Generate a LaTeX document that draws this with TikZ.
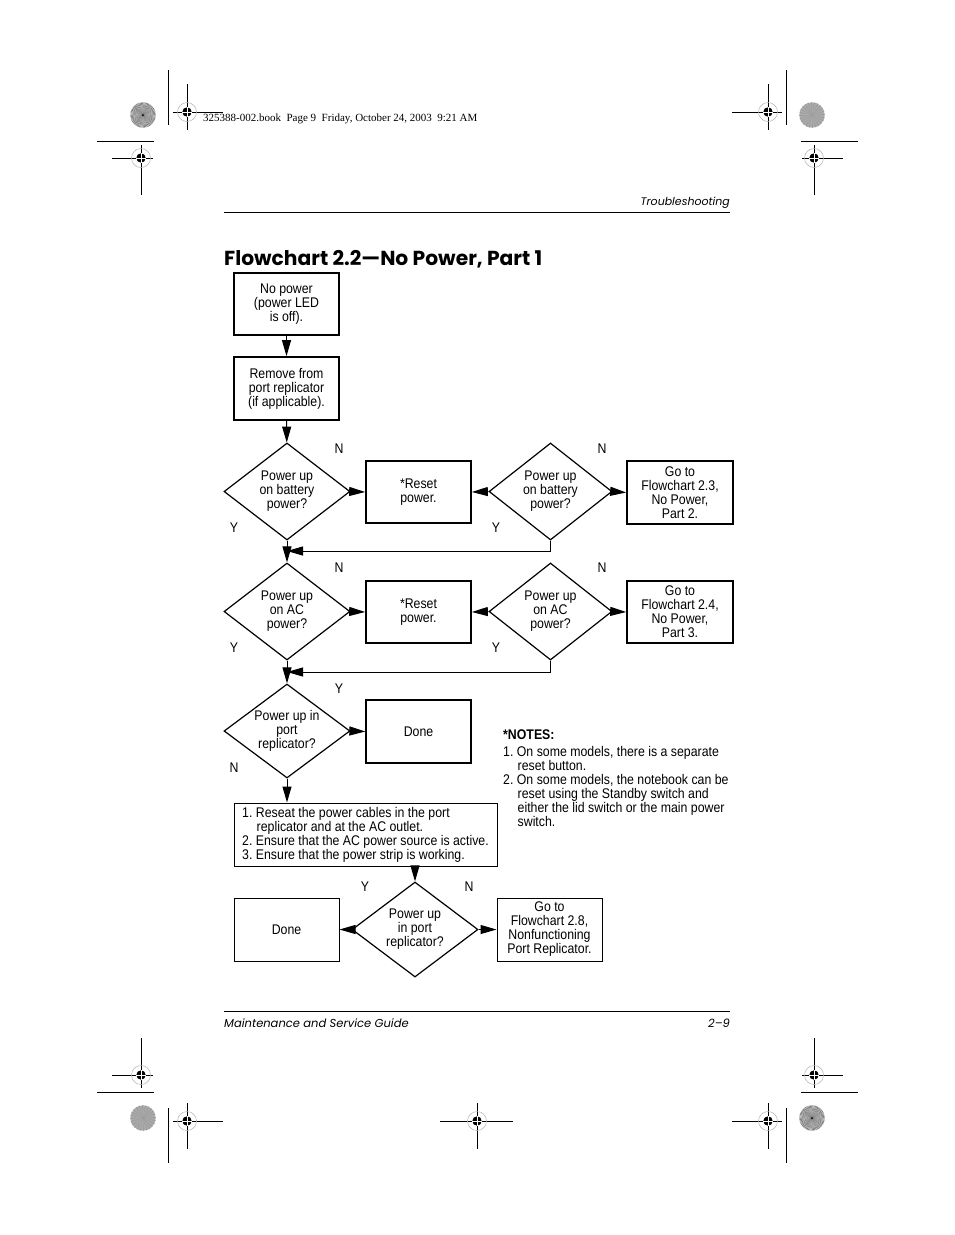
\documentclass[tikz,border=0pt]{standalone}
\usepackage{fontspec}
\usepackage{graphicx}
\setmainfont{Liberation Serif}
\newfontfamily\condf[FakeStretch=0.88]{Liberation Sans}
\newfontfamily\futf{Poppins}
\usetikzlibrary{shapes.geometric,arrows.meta,calc}

\newcommand{\rmk}[2]{%
  \draw[gray!60,line width=0.5pt] (#1,#2) circle[radius=9.5pt];
  \fill[black] (#1,#2) circle[radius=4.7pt];
  \draw[white,line width=0.6pt] (#1-4.7,#2) -- (#1+4.7,#2) (#1,#2-4.7) -- (#1,#2+4.7);}
\newcommand{\sburst}[2]{%
  \fill[gray!25] (#1,#2) circle[radius=12.7pt];
  \foreach \a in {0,6,...,354}
    \fill[black!55] (#1,#2) -- ++(\a:12.7pt) arc[start angle=\a, end angle=\a+3, radius=12.7pt] -- cycle;
  \fill[black] (#1,#2) circle[radius=1pt];}
\newcommand{\dkcirc}[2]{%
  \fill[gray!65] (#1,#2) circle[radius=12.7pt];
  \foreach \a in {0,15,...,345}
    \fill[gray!78] (#1,#2) -- ++(\a:12.7pt) arc[start angle=\a, end angle=\a+5, radius=12.7pt] -- cycle;}

\tikzset{
  txt/.style={font=\condf\fontsize{14}{14}\selectfont},
  flowbox/.style={txt, draw, line width=1.7pt, minimum width=105pt, minimum height=62pt, inner sep=0pt, align=center},
  thinbox/.style={flowbox, line width=1pt},
  decision/.style={txt, draw, diamond, aspect=1.3, line width=1.2pt, minimum width=126pt, minimum height=97pt, inner sep=0pt, align=center},
  conn/.style={line width=1pt, -{Triangle[length=16pt,width=9pt]}},
  yn/.style={txt, inner sep=0pt},
  crop/.style={line width=0.8pt},
}

\begin{document}
\begin{tikzpicture}[x=1pt,y=-1pt]
\useasboundingbox (0,0) rectangle (954,1235);
\fill[white] (0,0) rectangle (954,1235);

% ---------- crop marks ----------
\sburst{143}{115}
\draw[crop] (168.3,70) -- (168.3,125);
\draw[crop] (173,112) -- (223,112) (187,84) -- (187,130);
\rmk{187}{112}
\draw[crop] (97,141) -- (154,141);
\draw[crop] (112,158) -- (153,158) (141,145) -- (141,195);
\rmk{141}{158}

\dkcirc{812}{115}
\draw[crop] (786.7,70) -- (786.7,125);
\draw[crop] (732,112) -- (782,112) (768,84) -- (768,130);
\rmk{768}{112}
\draw[crop] (801,141) -- (858,141);
\draw[crop] (802,158) -- (843,158) (814,145) -- (814,195);
\rmk{814}{158}

\dkcirc{143}{1118}
\draw[crop] (168.3,1108) -- (168.3,1163);
\draw[crop] (173,1121) -- (223,1121) (187,1103) -- (187,1149);
\rmk{187}{1121}
\draw[crop] (97,1092) -- (154,1092);
\draw[crop] (112,1075) -- (153,1075) (141,1038) -- (141,1088);
\rmk{141}{1075}

\sburst{812}{1118}
\draw[crop] (786.7,1108) -- (786.7,1163);
\draw[crop] (732,1121) -- (782,1121) (768,1103) -- (768,1149);
\rmk{768}{1121}
\draw[crop] (801,1092) -- (858,1092);
\draw[crop] (802,1075) -- (843,1075) (814,1038) -- (814,1088);
\rmk{814}{1075}

\draw[crop] (440,1121) -- (513,1121) (477,1103) -- (477,1149);
\rmk{477}{1121}

\node[anchor=base west, inner sep=0pt, font=\fontsize{11}{13}\selectfont] (stamp) at (203,121)
  {325388-002.book~ Page 9~ Friday, October 24, 2003~ 9:21 AM};

% ---------- header / footer ----------
\node[anchor=base east, inner sep=0pt, font=\futf\itshape\fontsize{11}{13}\selectfont] (hdr) at (730,205) {Troubleshooting};
\draw[line width=0.8pt] (224,212) -- (730,212);
\draw[line width=0.8pt] (224,1011) -- (730,1011);
\node[anchor=base west, inner sep=0pt, font=\futf\itshape\fontsize{11.5}{13}\selectfont] (ftl) at (224,1027) {Maintenance and Service Guide};
\node[anchor=base east, inner sep=0pt, font=\futf\itshape\fontsize{11.5}{13}\selectfont] (ftr) at (730,1027) {2–9};

\node[anchor=base west, inner sep=0pt] (title) at (224,265)
  {\resizebox{318pt}{!}{\futf\bfseries Flowchart 2.2—No Power, Part 1}};

% ---------- flowchart ----------
\node[flowbox] (b1) at (286.5,304) {No power\\(power LED\\is off).};
\node[flowbox, minimum height=63pt] (b2) at (286.5,388.5) {Remove from\\port replicator\\(if applicable).};

\node[decision] (d1) at (287,491.5) {Power up\\on battery\\power?};
\node[flowbox] (r1) at (418.5,492) {*Reset\\power.};
\node[decision, minimum width=123pt] (d2) at (550.5,491.5) {Power up\\on battery\\power?};
\node[flowbox, minimum width=106pt, minimum height=63pt] (g1) at (680,492.5) {Go to\\Flowchart 2.3,\\No Power,\\Part 2.};

\node[decision] (d3) at (287,611.5) {Power up\\on AC\\power?};
\node[flowbox] (r2) at (418.5,612) {*Reset\\power.};
\node[decision, minimum width=123pt] (d4) at (550.5,611.5) {Power up\\on AC\\power?};
\node[flowbox, minimum width=106pt] (g2) at (680,612) {Go to\\Flowchart 2.4,\\No Power,\\Part 3.};

\node[decision, minimum height=94pt] (d5) at (287,731) {Power up in\\port\\replicator?};
\node[flowbox, line width=1.3pt, minimum height=63pt] (done1) at (418.5,731.5) {Done};

\node[thinbox, minimum width=263pt, minimum height=63pt, align=left] (steps) at (365.5,834.5)
  {1.\ Reseat the power cables in the port\\
   \hspace*{14.5pt}replicator and at the AC outlet.\\
   2.\ Ensure that the AC power source is active.\hspace*{6pt}\\
   3.\ Ensure that the power strip is working.};

\node[decision, minimum height=95pt] (d6) at (415,929.5) {Power up\\in port\\replicator?};
\node[thinbox, minimum height=63pt] (done2) at (286.5,929.5) {Done};
\node[thinbox, minimum height=63pt] (g3) at (549.5,929.5) {Go to\\Flowchart 2.8,\\Nonfunctioning\\Port Replicator.};

% notes
\node[txt, anchor=north west, inner sep=0pt, align=left] (notes) at (503,730)
  {\textbf{*NOTES:}\\[3pt]
   1.\ On some models, there is a separate\\
   \hspace*{14.5pt}reset button.\\
   2.\ On some models, the notebook can be\\
   \hspace*{14.5pt}reset using the Standby switch and\\
   \hspace*{14.5pt}either the lid switch or the main power\\
   \hspace*{14.5pt}switch.};

% Y / N labels
\node[yn] (n1) at (339,449) {N};
\node[yn] (y1) at (234,528) {Y};
\node[yn] (n2) at (602,449) {N};
\node[yn] (y2) at (496,528) {Y};
\node[yn] (n3) at (339,568) {N};
\node[yn] (y3) at (234,648) {Y};
\node[yn] (n4) at (602,568) {N};
\node[yn] (y4) at (496,648) {Y};
\node[yn] (y5) at (339,689) {Y};
\node[yn] (n5) at (234,768) {N};
\node[yn] (y6) at (365,887) {Y};
\node[yn] (n6) at (469,887) {N};

% connectors
\coordinate (j1) at (287,551);
\coordinate (j2) at (287,672);
\draw[conn] (b1) -- (b2);
\draw[conn] (b2) -- (d1);
\draw[conn] (d1.east) -- (r1.west);
\draw[conn] (d2.west) -- (r1.east);
\draw[conn] (d2.east) -- (g1.west);
\draw[conn] (d2.south) |- (j1);
\draw[conn] (d1.south) -- (d3.north);
\draw[conn] (d3.east) -- (r2.west);
\draw[conn] (d4.west) -- (r2.east);
\draw[conn] (d4.east) -- (g2.west);
\draw[conn] (d4.south) |- (j2);
\draw[conn] (d3.south) -- (d5.north);
\draw[conn] (d5.east) -- (done1.west);
\draw[conn] (d5.south) -- (d5.south |- steps.north);
\draw[conn] (steps.south -| d6.north) -- (d6.north);
\draw[conn] (d6.west) -- (done2.east);
\draw[conn] (d6.east) -- (g3.west);
\end{tikzpicture}
\end{document}
